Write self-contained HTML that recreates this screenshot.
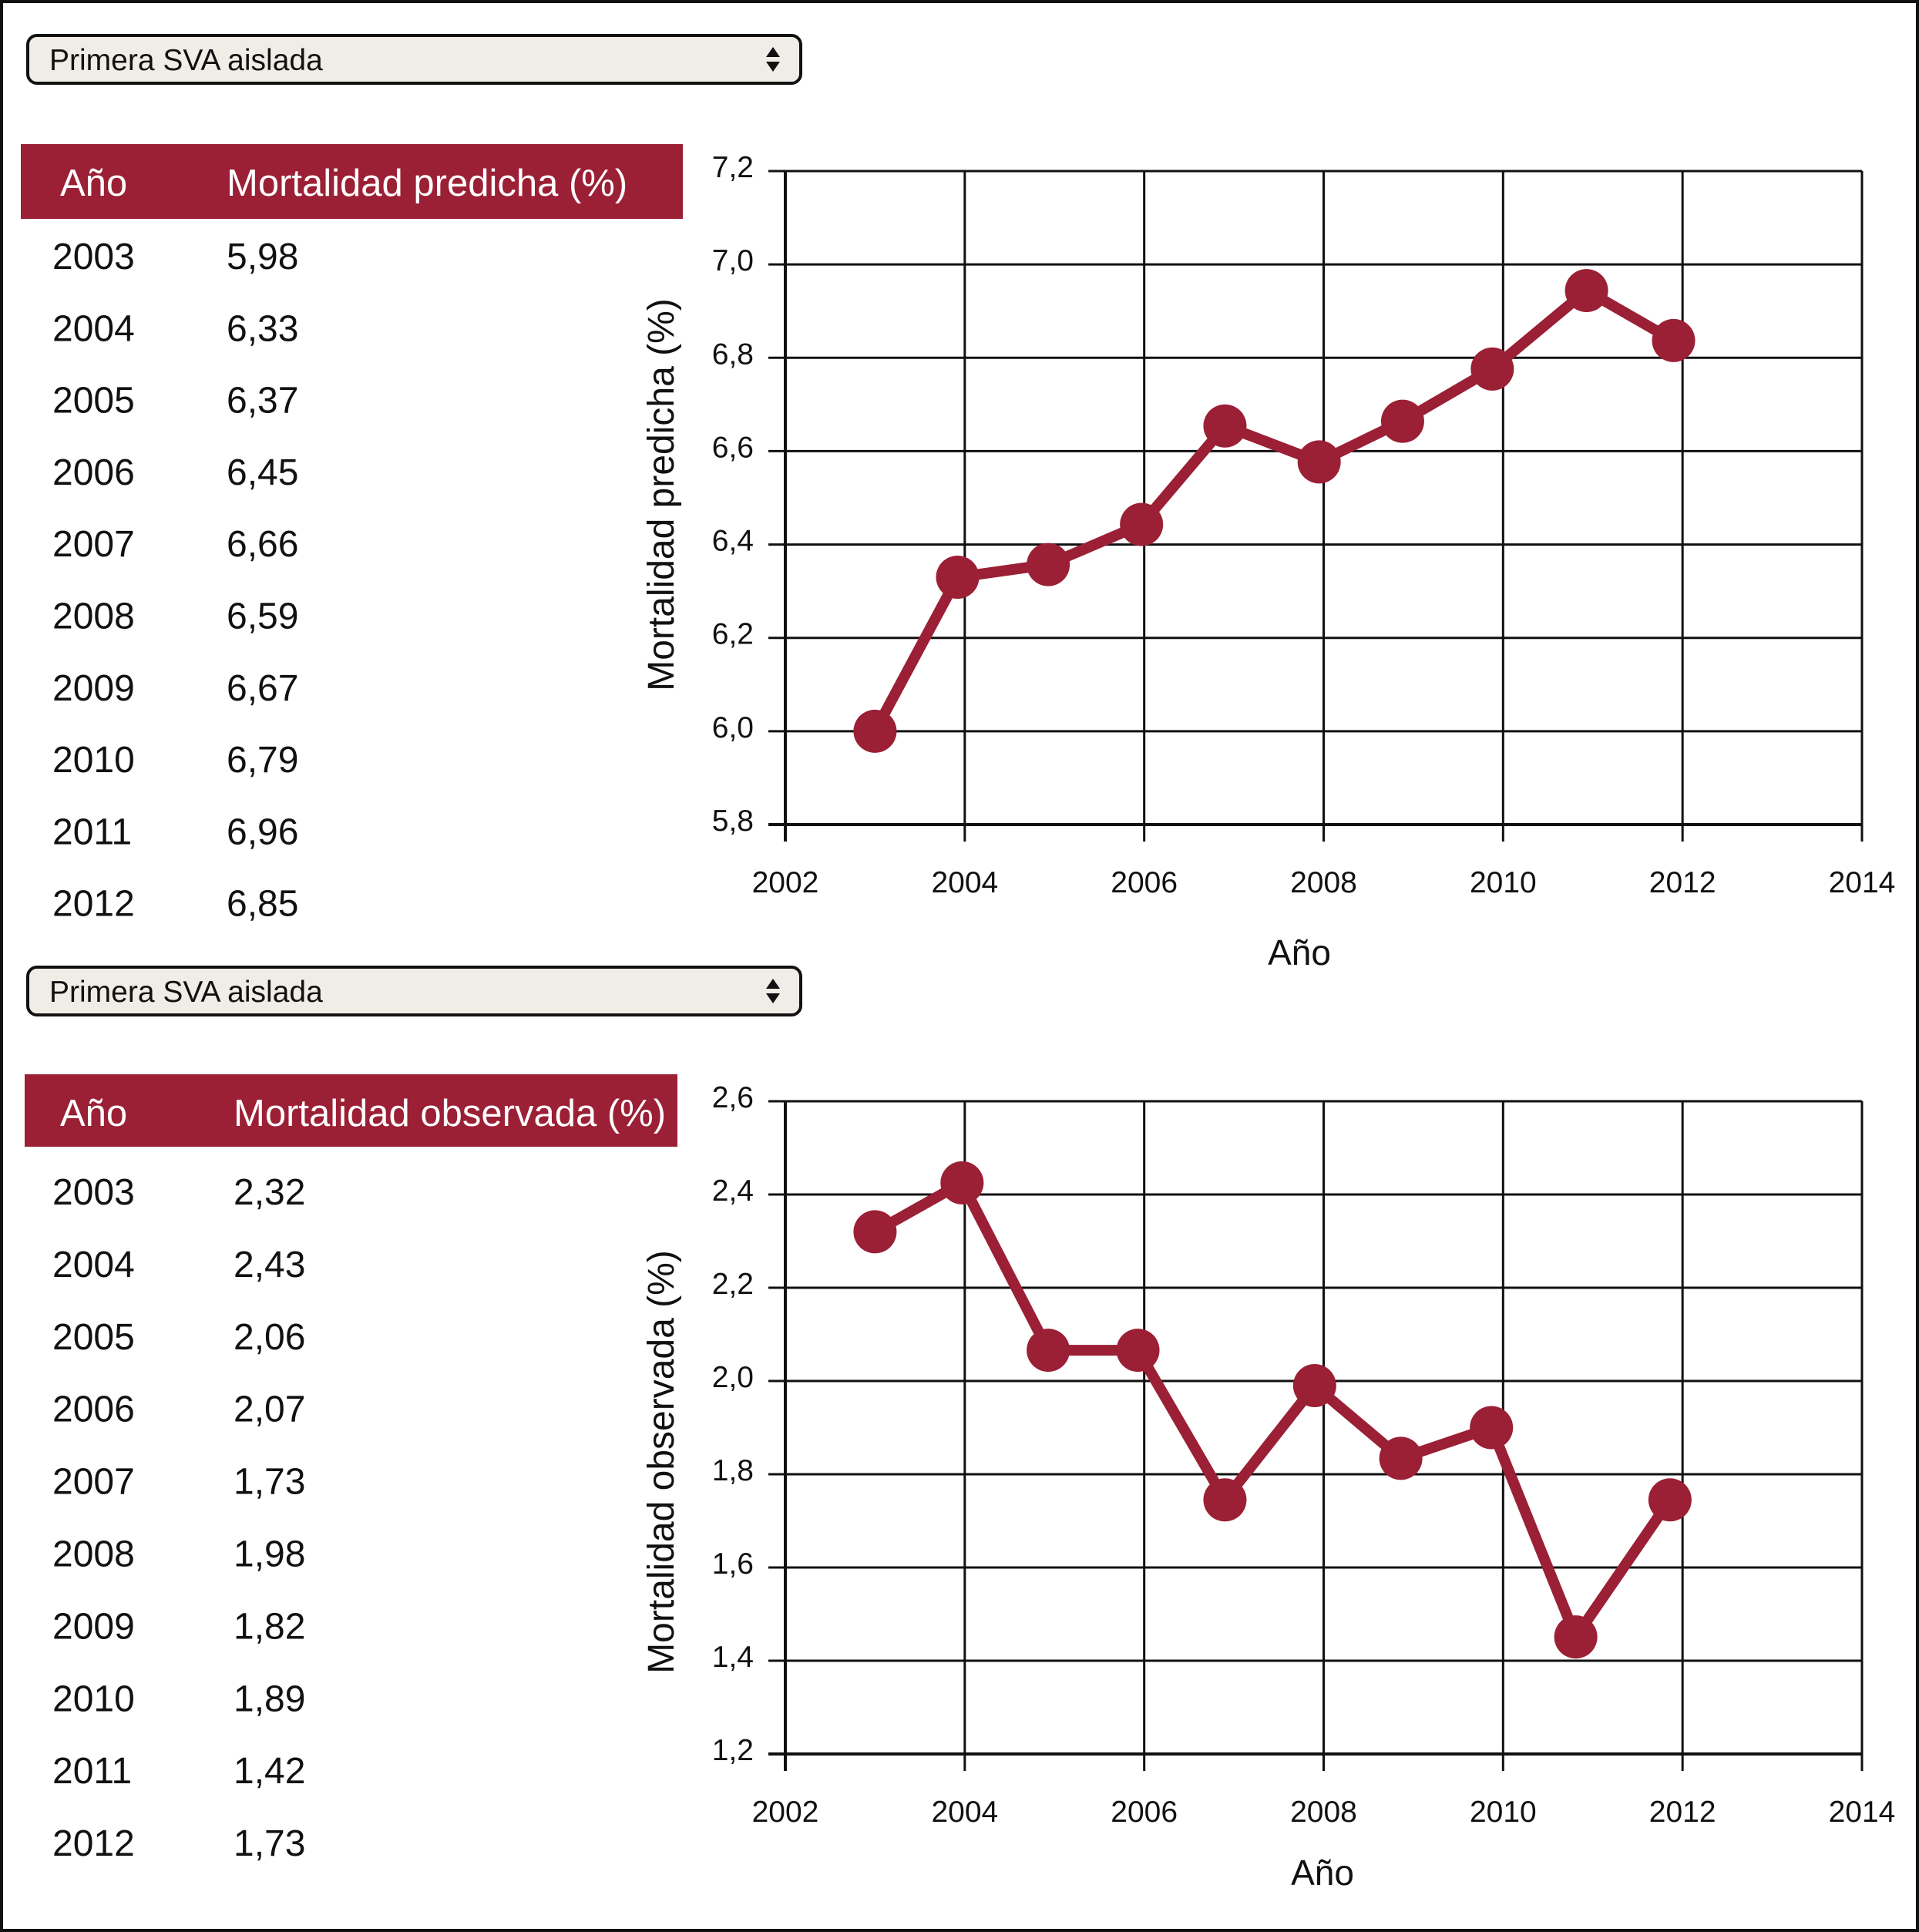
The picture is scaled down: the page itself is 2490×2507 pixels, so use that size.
<!DOCTYPE html>
<html><head><meta charset="utf-8">
<style>
html,body{margin:0;padding:0;background:#fff;}
svg{display:block;font-family:"Liberation Sans",Arial,sans-serif;}
</style></head>
<body>
<svg id="root" width="2490" height="2507" viewBox="0 0 2490 2507" xmlns="http://www.w3.org/2000/svg">
<rect x="2" y="2" width="2486" height="2503" fill="#fff" stroke="#111" stroke-width="4"/>
<g id="panels"></g>
</svg>
<script>
const years = [2003,2004,2005,2006,2007,2008,2009,2010,2011,2012];
const predTable = ["5,98","6,33","6,37","6,45","6,66","6,59","6,67","6,79","6,96","6,85"];
const obsTable = ["2,32","2,43","2,06","2,07","1,73","1,98","1,82","1,89","1,42","1,73"];
const predX = [2003.0,2003.92,2004.93,2005.97,2006.9,2007.95,2008.88,2009.88,2010.93,2011.9];
const predY = [6.0,6.33,6.357,6.443,6.654,6.577,6.664,6.776,6.944,6.837];
const obsX = [2003.0,2003.97,2004.93,2005.93,2006.9,2007.9,2008.86,2009.87,2010.81,2011.86];
const obsY = [2.32,2.425,2.066,2.066,1.745,1.99,1.834,1.90,1.451,1.745];
const xTicks = [2002,2004,2006,2008,2010,2012,2014];
const predTicks = ["5,8","6,0","6,2","6,4","6,6","6,8","7,0","7,2"];
const obsTicks = ["1,2","1,4","1,6","1,8","2,0","2,2","2,4","2,6"];

const NS = "http://www.w3.org/2000/svg";
const root = document.getElementById('panels');
const RED = "#9b1f35";
function mk(tag, attrs, parent, text){
  const e = document.createElementNS(NS, tag);
  for (const k in attrs) e.setAttribute(k, attrs[k]);
  if (text !== undefined) e.textContent = text;
  (parent||root).appendChild(e);
  return e;
}

function panel(cfg){
  const g = mk('g', {});
  
  
  const dd = mk('g', {}, g);
  
  
  mk('rect', {x:36, y:cfg.ddY, width:1003, height:62, rx:12, fill:"#f0ece6", stroke:"#111", "stroke-width":4}, dd);
  mk('text', {x:64, y:cfg.ddY+45, "font-size":39, fill:"#111"}, dd, "Primera SVA aislada");
  const cy = cfg.ddY + 32;
  mk('path', {d:`M994 ${cy-4} L1003 ${cy-17} L1012 ${cy-4} Z M994 ${cy+2} L1003 ${cy+15} L1012 ${cy+2} Z`, fill:"#111"}, dd);
  const th = mk('g', {}, g);
  
  
  mk('rect', {x:cfg.hx, y:cfg.hy, width:cfg.hw, height:cfg.hh, fill:RED}, th);
  mk('text', {x:78, y:cfg.hy+67, "font-size":49, fill:"#fff"}, th, "Año");
  mk('text', {x:cfg.valX, y:cfg.hy+67, "font-size":49, fill:"#fff"}, th, cfg.headText);
  for (let i=0;i<years.length;i++){
    const r = mk('g', {}, g);
    
    
    const by = cfg.row0 + i*cfg.rowStep;
    mk('text', {x:68, y:by, "font-size":48, fill:"#111"}, r, String(years[i]));
    mk('text', {x:cfg.valX, y:by, "font-size":48, fill:"#111"}, r, cfg.table[i]);
  }
  const L=1019, R=2416, T=cfg.top, B=cfg.bottom;
  const xs = v => L + (v-2002)/12*(R-L);
  const ys = v => B - (v-cfg.ymin)/(cfg.ymax-cfg.ymin)*(B-T);
  const ch = mk('g', {}, g);
  
  
  cfg.ticks.forEach((lab,i)=>{
    const v = cfg.ymin + i*(cfg.ymax-cfg.ymin)/(cfg.ticks.length-1);
    const y = ys(v);
    const gl = mk('line', {x1:997, x2:R, y1:y, y2:y, stroke:"#111", "stroke-width":3}, ch);
    
    
    const t = mk('text', {x:978, y:y+8, "font-size":39, fill:"#111", "text-anchor":"end"}, ch, lab);
    
    
  });
  xTicks.forEach(v=>{
    const x = xs(v);
    const gl = mk('line', {x1:x, x2:x, y1:T, y2:B+22, stroke:"#111", "stroke-width":3}, ch);
    
    
    const t = mk('text', {x:x, y:B+88, "font-size":39, fill:"#111", "text-anchor":"middle"}, ch, String(v));
    
    
  });
  mk('line', {x1:L, x2:L, y1:T, y2:B+22, stroke:"#111", "stroke-width":4}, ch);
  mk('line', {x1:997, x2:R, y1:B, y2:B, stroke:"#111", "stroke-width":4}, ch);
  const yt = mk('text', {x:0, y:0, "font-size":48, fill:"#111", "text-anchor":"middle", transform:`translate(874 ${cfg.ytY}) rotate(-90)`}, ch, cfg.yTitle);
  
  
  const xt = mk('text', {x:cfg.xtX, y:cfg.xtY, "font-size":46, fill:"#111", "text-anchor":"middle"}, ch, "Año");
  
  
  const pts = cfg.xv.map((v,i)=>xs(v)+','+ys(cfg.yv[i])).join(' ');
  const ln = mk('polyline', {points:pts, fill:"none", stroke:RED, "stroke-width":14, "stroke-linejoin":"round"}, ch);
  
  
  cfg.xv.forEach((v,i)=>{
    const c = mk('circle', {cx:xs(v), cy:ys(cfg.yv[i]), r:28, fill:RED}, ch);
    
    
  });
}

panel({prefix:'predicted', ddY:46, hx:27, hy:187, hw:859, hh:97, valX:294,
  headText:"Mortalidad predicha (%)", table:predTable, row0:349, rowStep:93.3,
  top:222, bottom:1070, ymin:5.8, ymax:7.2, ticks:predTicks,
  yTitle:"Mortalidad predicha (%)", ytY:642, xtX:1686, xtY:1252, xv:predX, yv:predY});
panel({prefix:'observed', ddY:1255, hx:32, hy:1394, hw:847, hh:94, valX:303,
  headText:"Mortalidad observada (%)", table:obsTable, row0:1563, rowStep:93.9,
  top:1429, bottom:2276, ymin:1.2, ymax:2.6, ticks:obsTicks,
  yTitle:"Mortalidad observada (%)", ytY:1897, xtX:1716, xtY:2446, xv:obsX, yv:obsY});
</script>
</body></html>
